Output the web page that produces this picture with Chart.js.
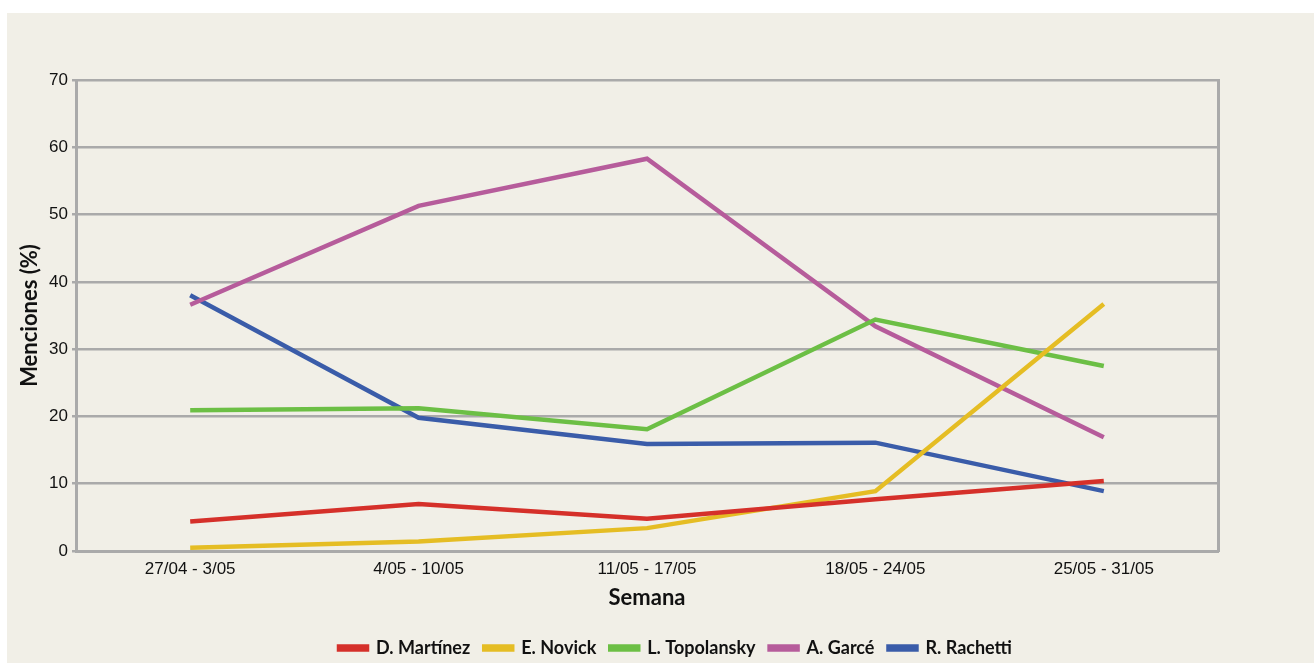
<body>
  <div id="wrap"><canvas id="line-chart"></canvas></div>

  <style>
    html, body {
      margin: 0;
      padding: 0;
      background-color: #ffffff;
      overflow: hidden;
    }
    #wrap {
      position: absolute;
      left: 7px;
      top: 13px;
      width: 1307px;
      height: 660px;
      background-color: #f1efe7;
    }
  </style>

  <script src="https://cdn.jsdelivr.net/npm/chart.js"></script>
  <script>
    // Datos
    const weeks = ['27/04 - 3/05', '4/05 - 10/05', '11/05 - 17/05', '18/05 - 24/05', '25/05 - 31/05'];
    const martinez = [4.4, 7.0, 4.8, 7.7, 10.4];
    const novick = [0.5, 1.4, 3.4, 8.9, 36.7];
    const topolansky = [20.9, 21.2, 18.1, 34.4, 27.5];
    const garce = [36.6, 51.3, 58.3, 33.4, 16.9];
    const rachetti = [38.0, 19.8, 15.9, 16.1, 8.9];
    const yTicks = [0, 10, 20, 30, 40, 50, 60, 70];

    const gridColor = '#aaaaaa';
    const tickFont = { family: '"Liberation Sans", Arial, sans-serif', size: 17 };
    const boldFont = (size) => ({ family: 'Lato, "Open Sans", sans-serif', size: size, weight: 'bold' });

    const makeSet = (label, data, color) => ({
      label: label,
      data: data,
      borderColor: color,
      backgroundColor: color,
      borderWidth: 4.5,
      pointRadius: 0,
      pointHoverRadius: 0,
      tension: 0,
      yAxisID: 'y'
    });

    let context = document.getElementById('line-chart').getContext('2d');
    let chart = new Chart(context, {
      type: 'line',
      data: {
        labels: weeks,
        datasets: [
          makeSet('D. Martínez', martinez, '#d5302a'),
          makeSet('E. Novick', novick, '#e5bd24'),
          makeSet('L. Topolansky', topolansky, '#6cbf45'),
          makeSet('A. Garcé', garce, '#b65c9b'),
          makeSet('R. Rachetti', rachetti, '#3a5ca9')
        ]
      },
      options: {
        responsive: true,
        maintainAspectRatio: false,
        animation: false,
        layout: {
          padding: { left: 30, right: 0, top: 67, bottom: 6 }
        },
        scales: {
          x: {
            offset: true,
            grid: { display: false },
            border: { color: gridColor, width: 3 },
            ticks: { color: '#111111', font: tickFont, padding: 0, maxRotation: 0 },
            title: {
              display: true,
              text: 'Semana',
              color: '#111111',
              font: boldFont(22),
              padding: { top: 4, bottom: 14 }
            },
            afterFit: (s) => { s.height = 74; }
          },
          y: {
            min: 0,
            max: 70,
            afterBuildTicks: (s) => { s.ticks = yTicks.map(v => ({ value: v })); },
            grid: { color: gridColor, lineWidth: 2.5, tickLength: 4 },
            border: { color: gridColor, width: 3 },
            ticks: { color: '#111111', font: tickFont, padding: 4 },
            title: {
              display: true,
              text: 'Menciones (%)',
              color: '#111111',
              font: boldFont(22),
              padding: { top: -20, bottom: 0 }
            },
            afterFit: (s) => { s.width = 39; }
          },
          y2: {
            position: 'right',
            display: true,
            grid: { display: false },
            border: { color: gridColor, width: 3 },
            ticks: { display: false },
            afterFit: (s) => { s.width = 96; }
          }
        },
        plugins: {
          legend: {
            position: 'bottom',
            labels: {
              boxWidth: 28,
              boxHeight: 3,
              padding: 14,
              color: '#111111',
              font: boldFont(18)
            }
          },
          tooltip: { enabled: false }
        }
      }
    });
  </script>
</body>
